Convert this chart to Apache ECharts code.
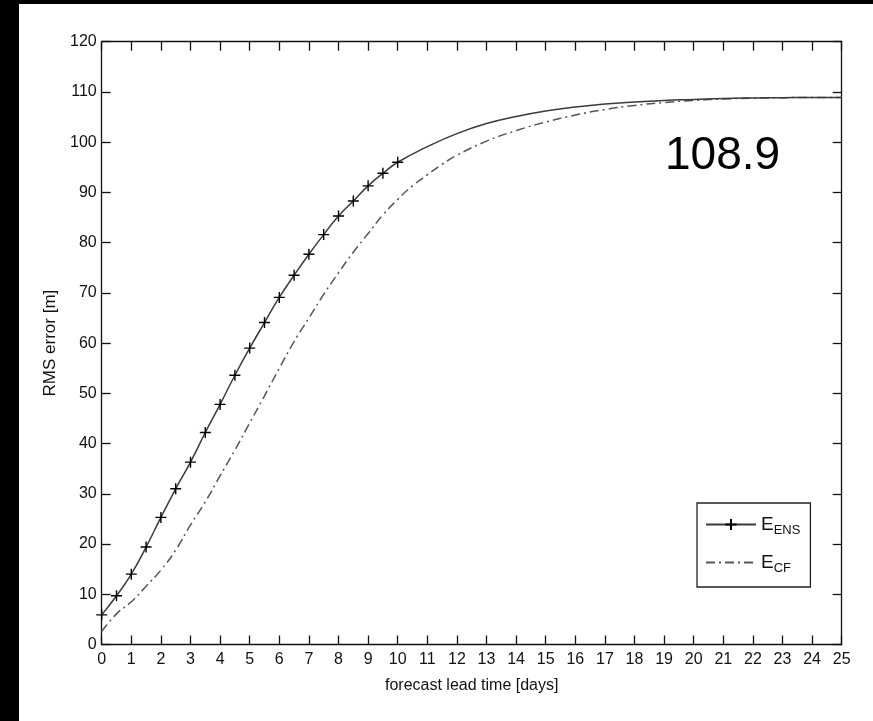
<!DOCTYPE html>
<html>
<head>
<meta charset="utf-8">
<script src="https://cdn.jsdelivr.net/npm/echarts@6/dist/echarts.min.js"></script>
<style>
html,body{margin:0;padding:0;background:#000;width:873px;height:721px;overflow:hidden;}
#chart{position:absolute;left:19px;top:4px;width:854px;height:717px;background:#fff;}
</style>
</head>
<body>
<div id="chart"></div>
<script>
// Lead times (days) and RMS errors [m]
const ensDays = [0,0.5,1,1.5,2,2.5,3,3.5,4,4.5,5,5.5,6,6.5,7,7.5,8,8.5,9,9.5,10,11,12,13,14,15,16,17,18,19,20,21,22,23,24,25];
const ensValues = [5.9,9.7,14.0,19.4,25.3,31.0,36.3,42.2,47.8,53.6,59.0,64.1,69.1,73.5,77.7,81.6,85.3,88.3,91.3,93.8,96.0,99.1,101.7,103.7,105.1,106.2,107.0,107.6,108.0,108.3,108.5,108.7,108.8,108.85,108.9,108.9];
const ensMarkerMaxDay = 10;
const cfDays = [0,0.5,1,1.5,2,2.5,3,3.5,4,4.5,5,5.5,6,6.5,7,7.5,8,8.5,9,9.5,10,10.5,11,11.5,12,13,14,15,16,17,18,19,20,21,22,23,24,25];
const cfValues = [2.6,6.1,8.5,11.6,14.8,18.8,23.8,28.4,33.6,38.7,44.1,49.5,55.0,60.3,65.0,69.7,74.0,78.1,81.8,85.5,88.6,91.3,93.5,95.6,97.4,100.2,102.3,104.0,105.4,106.5,107.3,107.9,108.3,108.6,108.75,108.85,108.9,108.9];
const saturationLabel = '108.9';
const xTickInterval = 1, yTickInterval = 10;

const FONT = "'Liberation Sans Narrow','Arial Narrow','Liberation Sans',Arial,sans-serif";
const chart = echarts.init(document.getElementById('chart'));

const ensData = ensDays.map((d, i) => d <= ensMarkerMaxDay ? [d, ensValues[i]] : {value: [d, ensValues[i]], symbol: 'none'});
const cfData = cfDays.map((d, i) => [d, cfValues[i]]);

const axisCommon = {
  axisLine: {show: true, onZero: false, lineStyle: {color: '#111', width: 1.3}},
  axisTick: {show: true, inside: true, length: 9, lineStyle: {color: '#111', width: 1.3}},
  splitLine: {show: false}
};

chart.setOption({
  animation: false,
  backgroundColor: '#fff',
  grid: {left: 82.7, top: 37.7, width: 740, height: 602.8, containLabel: false},
  xAxis: [
    Object.assign({
      type: 'value', min: 0, max: 25, interval: xTickInterval, position: 'bottom',
      name: 'forecast lead time [days]', nameLocation: 'middle', nameGap: 33,
      nameTextStyle: {fontFamily: FONT, fontSize: 16, color: '#111'},
      axisLabel: {fontFamily: FONT, fontSize: 16, color: '#111', margin: 7}
    }, axisCommon),
    Object.assign({
      type: 'value', min: 0, max: 25, interval: xTickInterval, position: 'top',
      axisLabel: {show: false}
    }, axisCommon)
  ],
  yAxis: [
    Object.assign({
      type: 'value', min: 0, max: 120, interval: yTickInterval, position: 'left',
      name: 'RMS error [m]', nameLocation: 'middle', nameGap: 34, nameRotate: 90,
      nameTextStyle: {fontFamily: FONT, fontSize: 17, color: '#111'},
      axisLabel: {fontFamily: FONT, fontSize: 16, color: '#111', margin: 5}
    }, axisCommon),
    Object.assign({
      type: 'value', min: 0, max: 120, interval: yTickInterval, position: 'right',
      axisLabel: {show: false}
    }, axisCommon)
  ],
  legend: {
    orient: 'vertical', left: 678, top: 499,
    padding: [12, 10, 12, 8], itemGap: 16, itemWidth: 50, itemHeight: 14,
    borderColor: '#222', borderWidth: 1.3, backgroundColor: '#fff',
    data: ['ENS', {name: 'CF', itemStyle: {color: 'rgba(0,0,0,0)', borderWidth: 0}}],
    formatter: n => '{e|E}{s|' + n + '}',
    textStyle: {
      fontFamily: FONT, color: '#111',
      rich: {
        e: {fontFamily: FONT, fontSize: 19, color: '#111'},
        s: {fontFamily: FONT, fontSize: 13, color: '#111', padding: [12, 0, 0, 0]}
      }
    }
  },
  series: [
    {
      name: 'ENS', type: 'line', data: ensData, smooth: 0.5,
      symbol: 'path://M0,5L10,5M5,0L5,10', symbolSize: 11, showSymbol: true,
      lineStyle: {color: '#3a3a3a', width: 1.5, type: 'solid'},
      itemStyle: {color: 'rgba(0,0,0,0)', borderColor: '#000', borderWidth: 1.4},
      z: 3
    },
    {
      name: 'CF', type: 'line', data: cfData, smooth: 0.5,
      symbol: 'circle', symbolSize: 3, showSymbol: false,
      lineStyle: {color: '#555', width: 1.5, type: [9, 4, 2, 4]},
      itemStyle: {color: '#333'},
      z: 2
    }
  ],
  graphic: [{
    type: 'text', left: 646, top: 129,
    style: {text: saturationLabel, fontFamily: "'Liberation Sans',Arial,sans-serif", fontSize: 46, fill: '#000'}
  }]
});
</script>
</body>
</html>
